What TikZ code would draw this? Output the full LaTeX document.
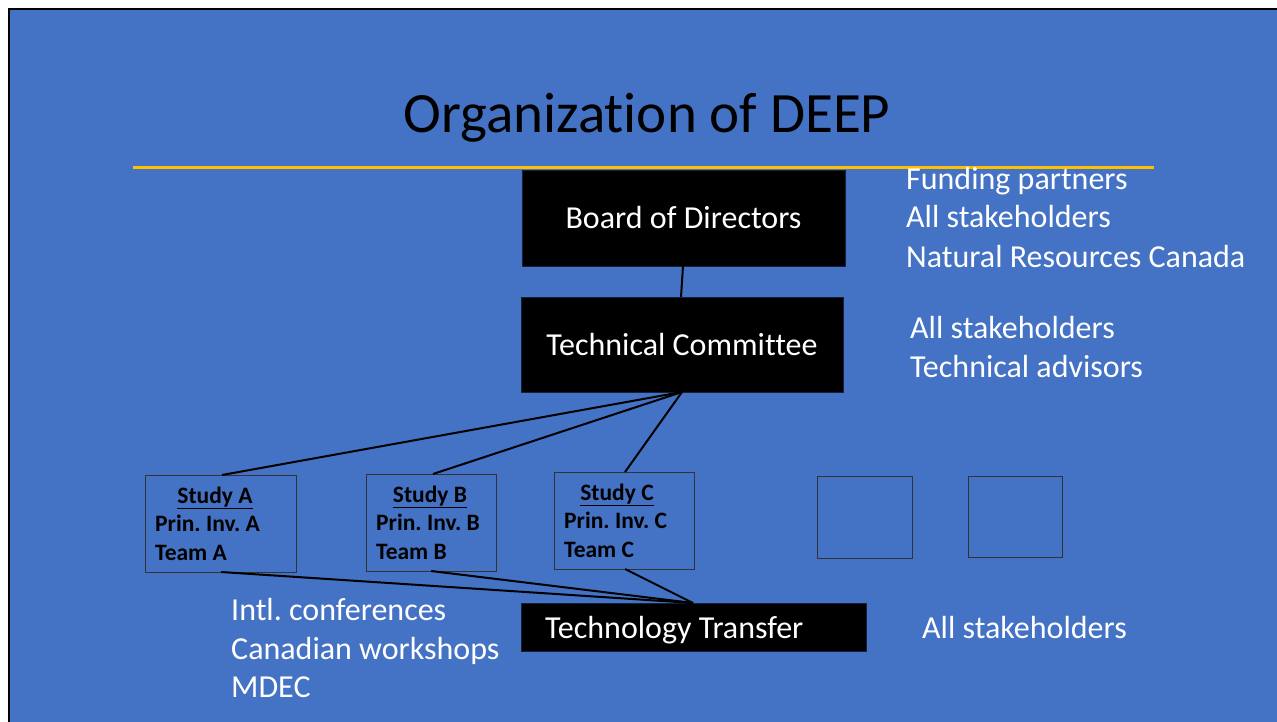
\documentclass[tikz,border=0pt]{standalone}
\usepackage{fontspec}
\setmainfont[Ligatures={NoCommon}]{Carlito}
\definecolor{slideblue}{HTML}{4472C4}
\definecolor{goldline}{HTML}{FFC000}
\begin{document}
\frenchspacing
\begin{tikzpicture}[x=1pt,y=-1pt,
  blackbox/.style={draw=black!70!slideblue, fill=black, line width=0.8pt, text=white, inner sep=0pt},
  studybox/.style={draw=black!80, line width=0.9pt, inner sep=0pt},
  wtext/.style={text=white, anchor=base west, inner sep=0pt, font=\fontsize{32}{38}\selectfont},
  btext/.style={text=black, anchor=base west, inner sep=0pt, font=\bfseries\fontsize{23.5}{28}\selectfont},
  conn/.style={line width=2pt, black}]
\useasboundingbox (0,0) rectangle (1277,722);
\fill[white] (0,0) rectangle (1277,722);
\fill[slideblue] (9,9) rectangle (1277,722);
\draw[line width=2.5pt, black] (9,722) -- (9,9) -- (1277,9);
% title
\node[text=black, anchor=base, inner sep=0pt, font=\fontsize{57}{62}\selectfont] (title) at (647,133) {Organization of DEEP};
\draw[goldline, line width=3pt] (133,168) -- (1154,168);
% boxes
\node[blackbox, minimum width=323pt, minimum height=96pt, font=\fontsize{32}{38}\selectfont] (bod) at (683.5,218) {Board of Directors};
\node[blackbox, minimum width=322pt, minimum height=95pt, font=\fontsize{32}{38}\selectfont] (tc) at (682,344.5) {Technical Committee};
\node[blackbox, minimum width=345pt, minimum height=48pt, anchor=north west] (tt) at (521,603) {};
\node[text=white, anchor=base west, inner sep=0pt, font=\fontsize{32}{38}\selectfont] (ttl) at (545,638) {Technology Transfer};
% study boxes
\node[studybox, minimum width=151pt, minimum height=97pt, anchor=north west] (sa) at (145,475) {};
\node[studybox, minimum width=130pt, minimum height=97pt, anchor=north west] (sb) at (366,474) {};
\node[studybox, minimum width=140pt, minimum height=97pt, anchor=north west] (sc) at (554,472) {};
\node[studybox, minimum width=95pt, minimum height=82pt, anchor=north west] (se) at (817,476) {};
\node[studybox, minimum width=94pt, minimum height=81pt, anchor=north west] (sf) at (968,476) {};
% study texts
\node[btext, anchor=base] (sat) at (215,503) {\underline{Study A}};
\node[btext] (sap) at (155,531) {Prin. Inv. A};
\node[btext] (sam) at (155,560) {Team A};
\node[btext, anchor=base] (sbt) at (430,502) {\underline{Study B}};
\node[btext] (sbp) at (376,530) {Prin. Inv. B};
\node[btext] (sbm) at (376,559) {Team B};
\node[btext, anchor=base] (sct) at (617,500) {\underline{Study C}};
\node[btext] (scp) at (564,528) {Prin. Inv. C};
\node[btext] (scm) at (564,557) {Team C};
% side texts
\node[wtext] (r1) at (906,190) {Funding partners};
\node[wtext] (r2) at (906,228) {All stakeholders};
\node[wtext] (r3) at (906,267) {Natural Resources Canada};
\node[wtext] (r4) at (910,338) {All stakeholders};
\node[wtext] (r5) at (910,377) {Technical advisors};
\node[wtext] (r6) at (922,638) {All stakeholders};
\node[wtext] (l1) at (231,620) {Intl. conferences};
\node[wtext] (l2) at (231,659) {Canadian workshops};
\node[wtext] (l3) at (231,697) {MDEC};
% connectors
\coordinate (tcb) at (682,392);
\coordinate (ttt) at (693,603);
\draw[conn] (683,266) -- (681,297);
\draw[conn] (tcb) -- (222,475);
\draw[conn] (tcb) -- (433,474);
\draw[conn] (tcb) -- (625,472);
\draw[conn] (221,572) -- (ttt);
\draw[conn] (431,571) -- (ttt);
\draw[conn] (625,569) -- (ttt);
\end{tikzpicture}
\end{document}
